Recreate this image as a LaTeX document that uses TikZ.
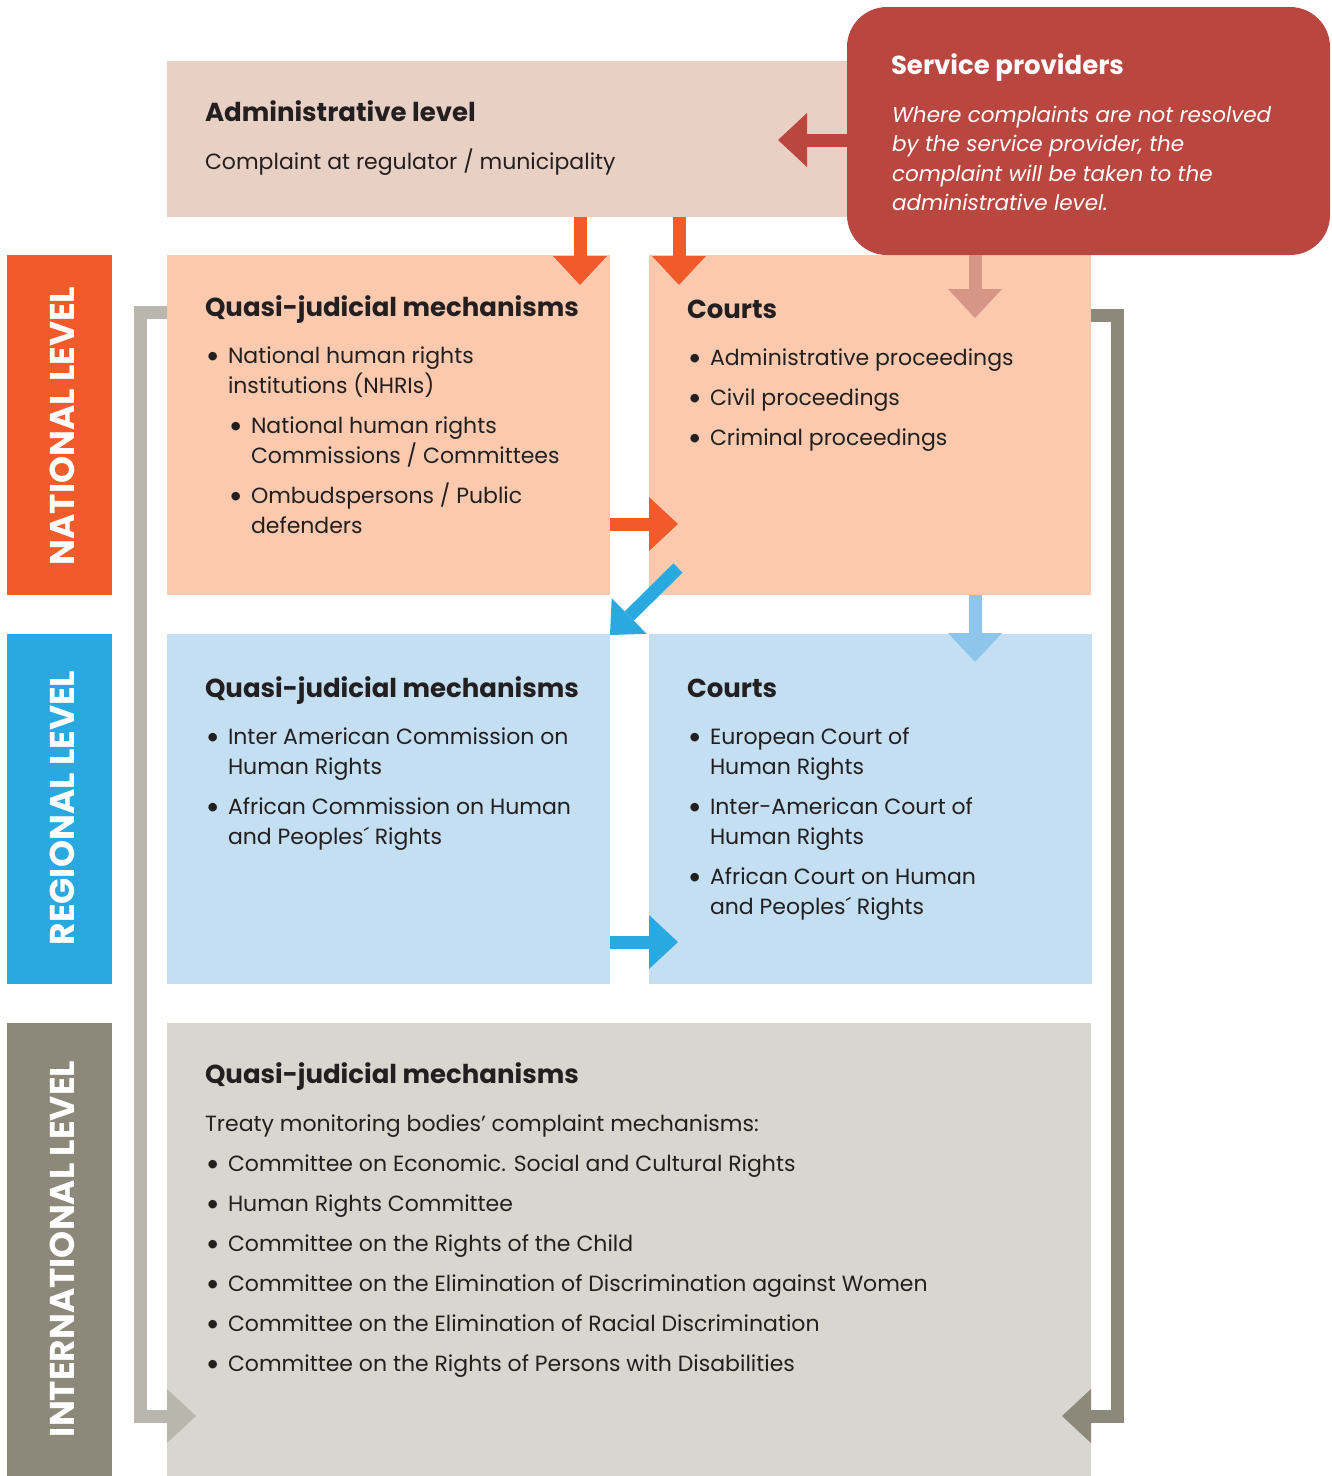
\documentclass[tikz,border=0pt]{standalone}
\usepackage{fontspec}
\setmainfont{Poppins}
\newfontfamily\bulfont{Lato}
\usetikzlibrary{arrows.meta}
\definecolor{adm}{HTML}{E8D0C5}
\definecolor{svc}{HTML}{B9463F}
\definecolor{orng}{HTML}{F15A2B}
\definecolor{natbox}{HTML}{FBCAAE}
\definecolor{regbox}{HTML}{C4DEF2}
\definecolor{blu}{HTML}{29A9E0}
\definecolor{lblu}{HTML}{8EC6EB}
\definecolor{pinkarr}{HTML}{D59688}
\definecolor{intside}{HTML}{8C897B}
\definecolor{intbox}{HTML}{D8D7CF}
\definecolor{lgray}{HTML}{B8B6AD}
\definecolor{ink}{HTML}{231F20}
\tikzset{
  box/.style={anchor=north west, inner sep=0pt, outer sep=0pt, draw=none},
  txt/.style={anchor=base west, inner sep=0pt, outer sep=0pt, text=ink, align=left,
    font=\fontsize{22}{30}\selectfont},
  ttl/.style={anchor=base west, inner sep=0pt, outer sep=0pt, text=ink,
    font=\fontsize{26}{32}\selectfont\bfseries},
  side/.style={rotate=90, text=white, inner sep=0pt, font=\fontsize{34.4}{34}\selectfont\bfseries},
  arr/.style={line width=13pt, -{Triangle[length=29pt,width=54pt,line width=0pt]}},
  darr/.style={line width=13pt, -{Triangle[length=27pt,width=50pt,line width=0pt]}},
  brk/.style={line width=13pt, line join=miter, -{Triangle[length=29pt,width=54pt,line width=0pt]}},
}
% #1 name, #2 bullet x, #3 first-line centre y, #4 number of lines, #5 text
\newcommand\bl[5]{%
  \node[txt, font=\fontsize{23}{30}\bulfont] (#1b) at ({#2},{#3+8}) {•};
  \node[txt] (#1) at ({#2+22},{#3+8+30*(#4-1)}) {#5};}
\begin{document}
\begin{tikzpicture}[x=1pt,y=-1pt]
\useasboundingbox (0,0) rectangle (1332,1476);
% boxes
\node[box, fill=adm, minimum width=700pt, minimum height=156pt] (adm) at (167,61) {};
\node[box, fill=orng, minimum width=105pt, minimum height=340pt] (natside) at (7,255) {};
\node[box, fill=natbox, minimum width=443pt, minimum height=340pt] (nq) at (167,255) {};
\node[box, fill=natbox, minimum width=442pt, minimum height=340pt] (nc) at (649,255) {};
\node[box, fill=blu, minimum width=105pt, minimum height=350pt] (regside) at (7,634) {};
\node[box, fill=regbox, minimum width=443pt, minimum height=350pt] (rq) at (167,634) {};
\node[box, fill=regbox, minimum width=443pt, minimum height=350pt] (rc) at (649,634) {};
\node[box, fill=intside, minimum width=105pt, minimum height=453pt] (intside) at (7,1023) {};
\node[box, fill=intbox, minimum width=924pt, minimum height=453pt] (ib) at (167,1023) {};
\node[box, fill=svc, rounded corners=40pt, minimum width=483pt, minimum height=248pt] (svc) at (847,7) {};

% side labels
\node[side] (natlab) at (62,426) {NATIONAL LEVEL};
\node[side] (reglab) at (62,808) {REGIONAL LEVEL};
\node[side] (intlab) at (62,1249) {INTERNATIONAL LEVEL};

% arrow end points
\coordinate (a1s) at (580,217); \coordinate (a1e) at (580,285);
\coordinate (a2s) at (679,217); \coordinate (a2e) at (679,285);
\coordinate (a3s) at (975,255); \coordinate (a3e) at (975,318);
\coordinate (a4s) at (847,140); \coordinate (a4e) at (778,140);
\coordinate (a5s) at (610,524); \coordinate (a5e) at (678,524);
\coordinate (a6s) at (678,568); \coordinate (a6e) at (610,635);
\coordinate (a7s) at (975,595); \coordinate (a7e) at (975,662);
\coordinate (a8s) at (610,942); \coordinate (a8e) at (678,942);
\coordinate (b1s) at (167,312); \coordinate (b1c) at (140,312); \coordinate (b1d) at (140,1416); \coordinate (b1e) at (196,1416);
\coordinate (b2s) at (1091,315); \coordinate (b2c) at (1117,315); \coordinate (b2d) at (1117,1416); \coordinate (b2e) at (1062,1416);

\draw[arr, orng] (a1s) -- (a1e);
\draw[arr, orng] (a2s) -- (a2e);
\draw[arr, pinkarr] (a3s) -- (a3e);
\draw[arr, svc] (a4s) -- (a4e);
\draw[arr, orng] (a5s) -- (a5e);
\draw[darr, blu] (a6s) -- (a6e);
\draw[arr, lblu] (a7s) -- (a7e);
\draw[arr, blu] (a8s) -- (a8e);
\draw[brk, lgray] (b1s) -- (b1c) -- (b1d) -- (b1e);
\draw[brk, intside] (b2s) -- (b2c) -- (b2d) -- (b2e);

% administrative
\node[ttl] (admt) at (205,121) {Administrative level};
\node[txt] (admx) at (205,169) {Complaint at regulator / municipality};

% service providers
\node[ttl, text=white] (svct) at (891,74) {Service providers};
\node[txt, text=white, font=\fontsize{21.5}{29.5}\selectfont\itshape] (svcx) at (892,210.5)
  {Where complaints are not resolved\\by the service provider, the\\complaint will be taken to the\\administrative level.};

% national quasi
\node[ttl] (nqt) at (205,316) {Quasi-judicial mechanisms};
\bl{nq1}{206}{355}{2}{National human rights\\institutions (NHRIs)}
\bl{nq2}{229}{425}{2}{National human rights\\Commissions / Committees}
\bl{nq3}{229}{495}{2}{Ombudspersons / Public\\defenders}

% national courts
\node[ttl] (nct) at (687,318) {Courts};
\bl{nc1}{688}{357}{1}{Administrative proceedings}
\bl{nc2}{688}{397}{1}{Civil proceedings}
\bl{nc3}{688}{437}{1}{Criminal proceedings}

% regional quasi
\node[ttl] (rqt) at (205,697) {Quasi-judicial mechanisms};
\bl{rq1}{206}{736}{2}{Inter American Commission on\\Human Rights}
\bl{rq2}{206}{806}{2}{African Commission on Human\\and Peoples´ Rights}

% regional courts
\node[ttl] (rct) at (687,697) {Courts};
\bl{rc1}{688}{736}{2}{European Court of\\Human Rights}
\bl{rc2}{688}{806}{2}{Inter-American Court of\\Human Rights}
\bl{rc3}{688}{876}{2}{African Court on Human\\and Peoples´ Rights}

% international
\node[ttl] (ibt) at (205,1083) {Quasi-judicial mechanisms};
\node[txt] (ibx) at (205,1131) {Treaty monitoring bodies’ complaint mechanisms:};
\bl{ib1}{206}{1163}{1}{Committee on Economic. Social and Cultural Rights}
\bl{ib2}{206}{1203}{1}{Human Rights Committee}
\bl{ib3}{206}{1243}{1}{Committee on the Rights of the Child}
\bl{ib4}{206}{1283}{1}{Committee on the Elimination of Discrimination against Women}
\bl{ib5}{206}{1323}{1}{Committee on the Elimination of Racial Discrimination}
\bl{ib6}{206}{1363}{1}{Committee on the Rights of Persons with Disabilities}
\end{tikzpicture}
\end{document}
